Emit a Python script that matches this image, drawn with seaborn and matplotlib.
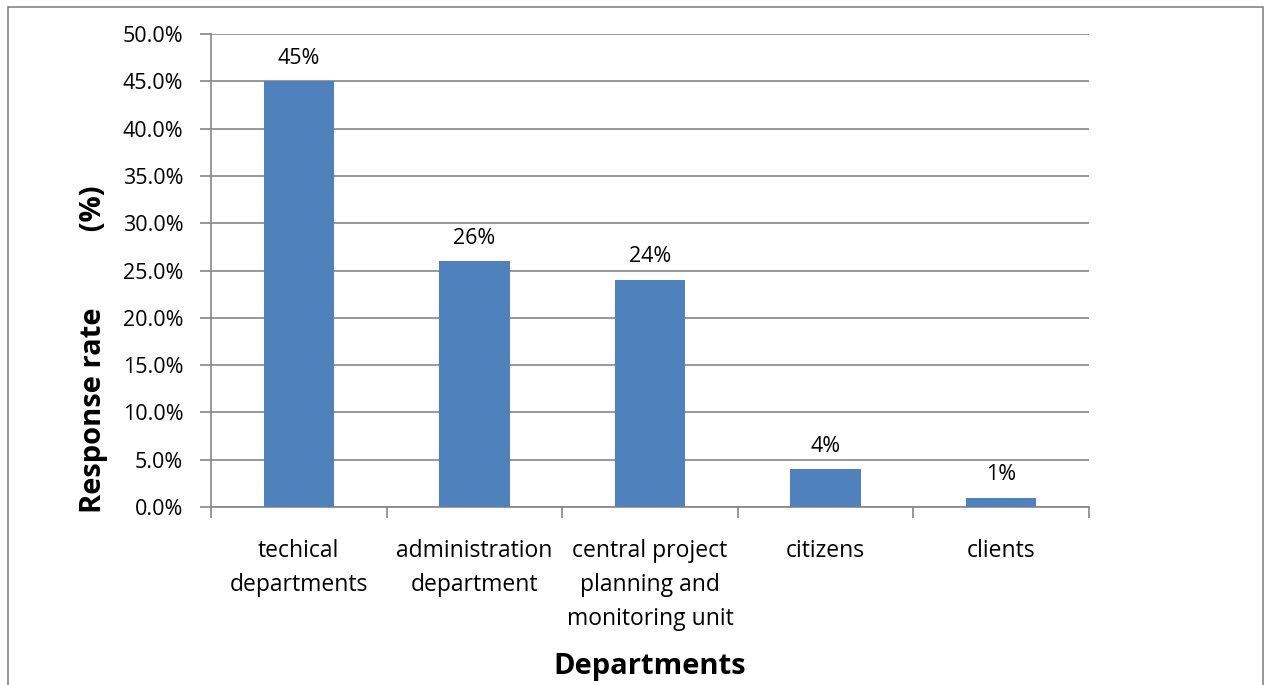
import matplotlib
matplotlib.use("Agg")
import matplotlib.pyplot as plt
import seaborn as sns
import pandas as pd
from matplotlib.patches import Rectangle
from matplotlib.ticker import FuncFormatter, FixedLocator

categories = ["techical\ndepartments", "administration\ndepartment",
              "central project\nplanning and\nmonitoring unit", "citizens", "clients"]
values = [45, 26, 24, 4, 1]
bar_labels = ["45%", "26%", "24%", "4%", "1%"]
y_ticks = [0, 5, 10, 15, 20, 25, 30, 35, 40, 45, 50]

sns.set_theme(style="white")
plt.rcParams['font.family'] = ['Open Sans', 'DejaVu Sans']

df = pd.DataFrame({"cat": categories, "val": values})

fig = plt.figure(figsize=(12.65, 6.85), dpi=100)
ax = fig.add_axes([211/1265, (685-507)/685, (1089-211)/1265, (507-34)/685])

grid_c = "#868686"
fs = 15.5
sns.barplot(data=df, x="cat", y="val", ax=ax, color="#4F81BD", width=0.40,
            saturation=1, edgecolor="none", zorder=3)

ax.set_ylim(0, 50)
ax.set_xlim(-0.5, len(categories) - 0.5)
ax.yaxis.set_major_locator(FixedLocator(y_ticks))
ax.yaxis.set_major_formatter(FuncFormatter(lambda v, p: f"{v:.1f}%"))
ax.grid(axis="y", color=grid_c, linewidth=1.2, zorder=0)
ax.set_axisbelow(True)

# category boundaries as major ticks, labels on minor ticks
ax.set_xticks([i - 0.5 for i in range(len(categories) + 1)])
ax.set_xticklabels([""] * (len(categories) + 1))
ax.set_xticks(range(len(categories)), minor=True)
ax.set_xticklabels(categories, minor=True, fontsize=16.5, color="#000000", linespacing=1.55)
ax.tick_params(axis="x", which="major", length=8, width=1.2, color=grid_c, direction="out", bottom=True)
ax.tick_params(axis="x", which="minor", length=0, pad=23)
ax.tick_params(axis="y", length=8, width=1.2, color=grid_c, direction="out", left=True,
               labelsize=fs, labelcolor="#000000", pad=12)

for s in ["top", "right"]:
    ax.spines[s].set_visible(False)
for s in ["left", "bottom"]:
    ax.spines[s].set_color(grid_c)
    ax.spines[s].set_linewidth(1.2)

for i, (v, lab) in enumerate(zip(values, bar_labels)):
    ax.annotate(lab, (i, v), xytext=(0, 9), textcoords="offset points",
                ha="center", va="bottom", fontsize=fs, color="#000000")

ax.set_ylabel("Response rate          (%)", fontsize=21, fontweight="bold", color="#000000")
ax.yaxis.set_label_coords((108 - 211) / 878, (507 - 349) / 473)
ax.set_xlabel("Departments", fontsize=21, fontweight="bold", color="#000000")
ax.xaxis.set_label_coords((650 - 211) / 878, (507 - 652) / 473)

fig.patches.append(Rectangle((8/1265, -0.1), (1263-8)/1265, (685-7)/685 + 0.1,
                             transform=fig.transFigure, fill=False,
                             edgecolor="#868686", linewidth=1.2))

fig.savefig("out.png", dpi=100)
